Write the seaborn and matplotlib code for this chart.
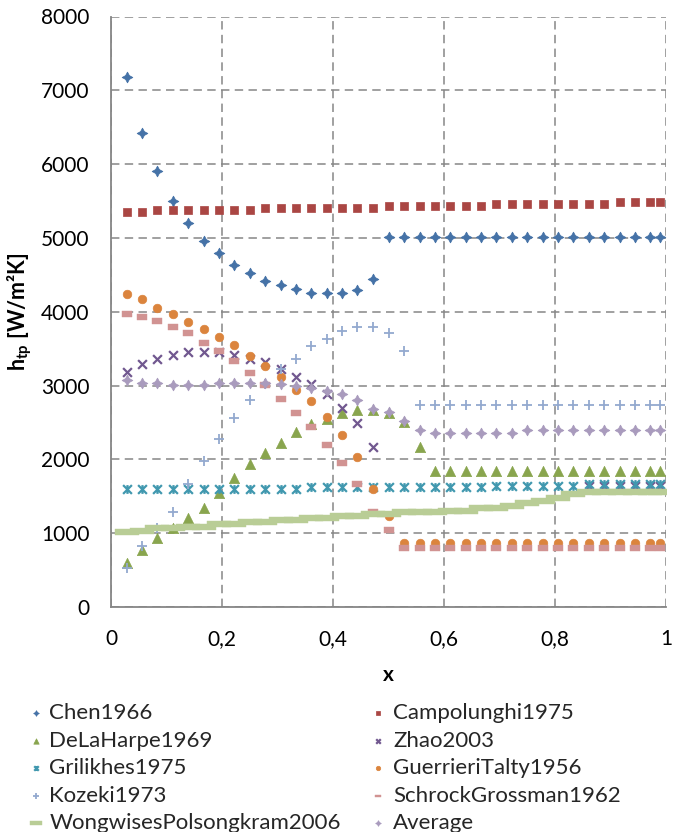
import numpy as np
import matplotlib
matplotlib.use("Agg")
import matplotlib.pyplot as plt
from matplotlib.path import Path
import seaborn as sns

nan = np.nan

# ---- data ----
x = [0.028, 0.056, 0.083, 0.111, 0.139, 0.167, 0.194, 0.222, 0.250, 0.278, 0.306, 0.333,
     0.361, 0.389, 0.417, 0.444, 0.472, 0.500, 0.528, 0.556, 0.583, 0.611, 0.639, 0.667,
     0.694, 0.722, 0.750, 0.778, 0.806, 0.833, 0.861, 0.889, 0.917, 0.944, 0.972, 0.990]

chen = [7180, 6420, 5910, 5500, 5200, 4960, 4800, 4635, 4527, 4420, 4365, 4311,
        4257, 4257, 4257, 4290, 4446, 5015, 5015, 5015, 5015, 5015, 5015, 5015,
        5015, 5015, 5015, 5015, 5015, 5015, 5015, 5015, 5015, 5015, 5015, 5015]

campolunghi = [5350, 5350, 5375, 5375, 5375, 5375, 5375, 5375, 5375, 5410, 5410, 5410,
               5410, 5410, 5410, 5410, 5410, 5435, 5435, 5435, 5435, 5435, 5435, 5435,
               5460, 5460, 5460, 5460, 5460, 5460, 5460, 5460, 5490, 5490, 5490, 5490]

delaharpe = [600, 766, 930, 1065, 1200, 1335, 1551, 1745, 1935, 2092, 2227, 2365,
             2476, 2544, 2633, 2669, 2669, 2625, 2503, 2173, 1848, 1848, 1848, 1848,
             1848, 1848, 1848, 1848, 1848, 1848, 1848, 1848, 1848, 1848, 1848, 1848]

zhao = [3180, 3288, 3364, 3418, 3450, 3450, 3450, 3418, 3364, 3315, 3230, 3120,
        3017, 2882, 2701, 2498, 2173, nan, nan, nan, nan, nan, nan, nan,
        nan, nan, nan, nan, nan, nan, 1645, 1645, 1645, 1645, 1645, 1645]

grilikhes = [1605, 1605, 1605, 1605, 1605, 1605, 1605, 1605, 1605, 1605, 1605, 1605,
             1625, 1625, 1625, 1625, 1625, 1625, 1625, 1625, 1625, 1625, 1625, 1625,
             1645, 1645, 1645, 1645, 1645, 1645, 1665, 1665, 1665, 1665, 1665, 1665]

guerrieri = [4243, 4167, 4054, 3973, 3864, 3761, 3653, 3545, 3404, 3269, 3112, 2945,
             2787, 2571, 2327, 2030, 1597, 1235, 866, 866, 866, 866, 866, 866,
             866, 866, 866, 866, 866, 866, 866, 866, 866, 866, 866, 866]

kozeki = [522, 820, 1069, 1285, 1660, 1983, 2281, 2557, 2801, 3017, 3220, 3366,
          3535, 3634, 3742, 3797, 3797, 3716, 3472, 2741, 2741, 2741, 2741, 2741,
          2741, 2741, 2741, 2741, 2741, 2741, 2741, 2741, 2741, 2741, 2741, 2741]

schrock = [3964, 3932, 3878, 3797, 3716, 3580, 3472, 3336, 3174, 3012, 2822, 2633,
           2444, 2200, 1957, 1662, 1293, 1046, 798, 798, 798, 798, 798, 798,
           798, 798, 798, 798, 798, 798, 798, 798, 798, 798, 798, 798]

wongwises = [1015, 1036, 1069, 1069, 1090, 1090, 1123, 1123, 1145, 1145, 1172, 1172,
             1204, 1204, 1235, 1235, 1262, 1262, 1285, 1285, 1285, 1307, 1307, 1339,
             1339, 1371, 1407, 1438, 1475, 1529, 1556, 1556, 1556, 1556, 1556, 1556]

average = [3075, 3039, 3030, 3012, 3012, 3012, 3039, 3039, 3039, 3030, 3020, 2994,
           2963, 2931, 2886, 2805, 2687, 2638, 2525, 2399, 2362, 2362, 2362, 2362,
           2362, 2362, 2399, 2399, 2399, 2399, 2399, 2399, 2399, 2399, 2399, 2399]

names = ["Chen1966", "Campolunghi1975", "DeLaHarpe1969", "Zhao2003", "Grilikhes1975",
         "GuerrieriTalty1956", "Kozeki1973", "SchrockGrossman1962",
         "WongwisesPolsongkram2006", "Average"]
series = [chen, campolunghi, delaharpe, zhao, grilikhes, guerrieri, kozeki, schrock,
          wongwises, average]
colors = ["#4572A7", "#AA4643", "#89A54E", "#71588F", "#4198AF", "#DB843D",
          "#93A9CF", "#D19392", "#B9CD96", "#A99BBD"]
x_ticklabels = ["0", "0,2", "0,4", "0,6", "0,8", "1"]
y_ticks = [0, 1000, 2000, 3000, 4000, 5000, 6000, 7000, 8000]

# ---- marker shapes ----
ang = np.deg2rad(np.arange(8) * 45.0)
rad = np.where(np.arange(8) % 2 == 0, 1.0, 0.5)
star_verts = list(zip(rad * np.cos(ang), rad * np.sin(ang))) + [(1.0, 0.0)]
star4 = Path(star_verts, [Path.MOVETO] + [Path.LINETO] * 7 + [Path.CLOSEPOLY])
asterisk = Path([(-1, -1), (1, 1), (-1, 1), (1, -1), (0, -1), (0, 1)],
                [Path.MOVETO, Path.LINETO, Path.MOVETO, Path.LINETO, Path.MOVETO, Path.LINETO])
short_dash = Path([(-1, -0.5), (1, -0.5), (1, 0.5), (-1, 0.5), (-1, -0.5)],
                  [Path.MOVETO, Path.LINETO, Path.LINETO, Path.LINETO, Path.CLOSEPOLY])
long_dash = Path([(-1, -0.27), (1, -0.27), (1, 0.27), (-1, 0.27), (-1, -0.27)],
                 [Path.MOVETO, Path.LINETO, Path.LINETO, Path.LINETO, Path.CLOSEPOLY])

styles = [
    dict(marker=star4, s=58, lw=0.6),
    dict(marker="s", s=36, lw=0.5),
    dict(marker="^", s=55, lw=0.5),
    dict(marker="x", s=40, lw=1.6),
    dict(marker=asterisk, s=40, lw=1.6),
    dict(marker="o", s=38, lw=0.5),
    dict(marker="+", s=55, lw=1.3),
    dict(marker=short_dash, s=52, lw=0.3),
    dict(marker=long_dash, s=275, lw=0.3),
    dict(marker=star4, s=58, lw=0.6),
]

sns.set_theme(style="white")
plt.rcParams["font.family"] = ["Lato", "DejaVu Sans"]
plt.rcParams["mathtext.fontset"] = "custom"
plt.rcParams["mathtext.rm"] = "Lato"
plt.rcParams["mathtext.bf"] = "Lato:bold"
plt.rcParams["mathtext.default"] = "bf"

W, H = 683, 832
fig = plt.figure(figsize=(W / 100, H / 100), dpi=100)
ax_l, ax_r, ax_t, ax_b = 111, 666, 16.5, 607
ax = fig.add_axes([ax_l / W, 1 - ax_b / H, (ax_r - ax_l) / W, (ax_b - ax_t) / H])

for i, (name, vals, c, st) in enumerate(zip(names, series, colors, styles)):
    sns.scatterplot(x=x, y=vals, ax=ax, marker=st["marker"], s=st["s"], color=c,
                    edgecolor=c, linewidth=st["lw"], label=name, zorder=3 + i)

if ax.get_legend() is not None:
    ax.get_legend().remove()

ax.set_xlim(0, 1)
ax.set_ylim(0, 8000)
ax.set_xticks([0, 0.2, 0.4, 0.6, 0.8, 1.0])
ax.set_xticklabels(x_ticklabels)
ax.set_yticks(y_ticks)
ax.set_yticklabels([str(v) for v in y_ticks])
ax.grid(True, color="#868686", linestyle=(0, (5.5, 3.5)), linewidth=1.1)
ax.set_axisbelow(True)
for sp in ["top", "right"]:
    ax.spines[sp].set_visible(False)
for sp in ["left", "bottom"]:
    ax.spines[sp].set_color("#868686")
    ax.spines[sp].set_linewidth(1.3)
ax.tick_params(axis="both", length=0, labelsize=15, colors="black")
ax.tick_params(axis="x", pad=16)
ax.tick_params(axis="y", pad=15.5)

ax.set_xlabel("x", fontsize=15, fontweight="bold", color="black")
ax.set_ylabel("h$_{tp}$ [W/m²K]", fontsize=15.5, fontweight="bold", color="black")
axw, axh = ax_r - ax_l, ax_b - ax_t
ax.xaxis.set_label_coords(0.5, -(665 - ax_b) / axh)
ax.yaxis.set_label_coords((34 - ax_l) / axw, 0.5)

handles, labels = ax.get_legend_handles_labels()
hmap = dict(zip(labels, handles))
col1 = ["Chen1966", "DeLaHarpe1969", "Grilikhes1975", "Kozeki1973", "WongwisesPolsongkram2006"]
col2 = ["Campolunghi1975", "Zhao2003", "GuerrieriTalty1956", "SchrockGrossman1962", "Average"]
common = dict(loc="upper left", frameon=False, fontsize=16, borderpad=0, borderaxespad=0,
              handlelength=0.68, labelspacing=0.34, markerscale=0.52, scatterpoints=1)
fig.legend([hmap[n] for n in col1], col1, bbox_to_anchor=(28.5 / W, 1 - 703 / H),
           handletextpad=0.25, **common)
fig.legend([hmap[n] for n in col2], col2, bbox_to_anchor=(370.5 / W, 1 - 703 / H),
           handletextpad=0.33, **common)

fig.savefig("out.png", dpi=100)
